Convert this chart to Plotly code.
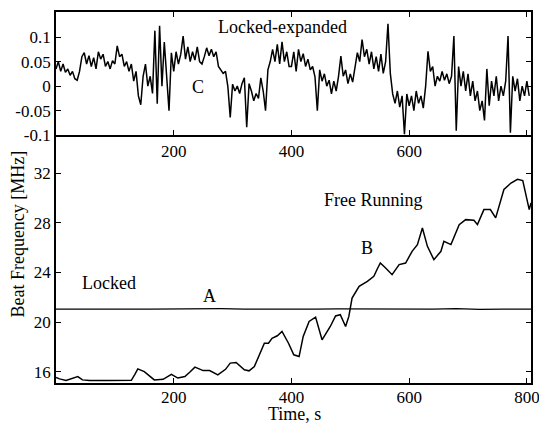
import plotly.graph_objects as go

# ---- Top panel: locked, expanded scale (MHz offset) ----
time_c = list(range(0, 808, 4))
offset_c = [
    0.035, 0.05, 0.03, 0.045, 0.028, 0.035, 0.022, 0.03, 0.015, 0.012,
    0.03, 0.06, 0.068, 0.045, 0.062, 0.04, 0.058, 0.035,
    0.07, 0.055, 0.065, 0.04, 0.05, 0.035, 0.052, 0.045,
    0.082, 0.06, 0.065, 0.04, 0.05, 0.03, 0.045,
    0.01, 0.03, -0.02, -0.038, 0.02, 0.045, 0.0, 0.02, -0.015, 0.113,
    -0.036, 0.123, 0.0, 0.09, 0.02, -0.05, 0.068, 0.03, 0.07, 0.045,
    0.065, 0.102, 0.055, 0.08, 0.05, 0.07, 0.053, 0.08, 0.05, 0.045,
    0.06, 0.078, 0.062, 0.075, 0.06, 0.07, 0.04, 0.033, 0.026, 0.03,
    -0.001, -0.064, 0.004, -0.01, 0.0, -0.015, 0.005, 0.017, -0.084, 0.005,
    -0.01, -0.03, -0.015, -0.025, 0.017, -0.01, -0.05, 0.033, 0.05, 0.075,
    0.05, 0.085, 0.045, 0.09, 0.05, 0.07, 0.04,
    0.04, 0.07, 0.03, 0.075, 0.05, 0.066, 0.04, 0.055, 0.033, 0.04,
    0.019, -0.05, 0.033, 0.01, 0.025, 0.0, 0.012, -0.016, 0.01, -0.01,
    0.02, 0.061, 0.02, 0.033, 0.005, 0.025, 0.008, 0.04, 0.068, 0.05,
    0.095, 0.06, 0.075, 0.045, 0.07, 0.035, 0.06, 0.03, 0.065, 0.026,
    0.05, 0.127, 0.026, -0.016, -0.035, -0.01, -0.043, -0.02, -0.098, -0.016,
    -0.04, -0.02, -0.05, -0.01, -0.035, -0.02, -0.045, 0.0, 0.071, 0.03,
    0.04, 0.0, 0.02, 0.01, 0.03, 0.012, 0.025, 0.005, 0.02, 0.102,
    -0.091, 0.04, 0.0, 0.03, -0.01, 0.025, -0.02, 0.01, -0.03, -0.01,
    -0.05, -0.03, -0.07, 0.035, -0.04, 0.01, -0.02, 0.02, -0.03, 0.0,
    -0.02, 0.01, 0.102, -0.095, 0.02, -0.01, 0.015, -0.03, 0.0, -0.02,
    0.01, -0.02,
]
time_c = time_c[:len(offset_c)]

# ---- Bottom panel: locked (A) ----
time_a = [0, 40, 80, 120, 160, 200, 240, 280, 320, 360, 400, 440, 480,
          520, 560, 600, 640, 680, 720, 760, 807]
freq_a = [21.05, 21.03, 21.06, 21.04, 21.05, 21.07, 21.06, 21.08, 21.05, 21.03,
          21.05, 21.04, 21.06, 21.05, 21.04, 21.03, 21.05, 21.08, 21.03, 21.05, 21.04]

# ---- Bottom panel: free running (B) ----
time_b = [0, 6, 17, 28, 37, 45, 57, 90, 128, 134, 139, 150, 158, 167, 182,
          196, 207, 219, 228, 236, 250, 261, 275, 288, 296, 306, 320, 328,
          337, 346, 354, 361, 367, 376, 384, 395, 404, 413, 420, 430, 441,
          452, 466, 475, 483, 492, 497.5, 503, 515, 529, 540, 546, 551, 560,
          571, 583, 594, 605, 614, 622.5, 631, 642, 654, 659, 671, 685, 696,
          710, 716, 727, 738, 747, 761, 773, 784, 793, 798, 804, 807]
freq_b = [15.54, 15.43, 15.3, 15.45, 15.62, 15.35, 15.3, 15.3, 15.32, 15.8,
          16.24, 16.02, 15.7, 15.35, 15.4, 15.8, 15.5, 15.62, 16.0, 16.38,
          16.1, 16.1, 15.75, 16.2, 16.7, 16.75, 16.16, 16.08, 16.43, 17.4,
          18.3, 18.3, 18.7, 18.9, 19.25, 18.3, 17.37, 17.23, 18.85, 20.06,
          20.4, 18.58, 19.65, 20.5, 20.6, 19.65, 20.46, 21.94, 22.88, 23.28,
          23.69, 24.3, 24.76, 24.36, 23.82, 24.63, 24.76, 25.7, 26.24, 27.58,
          26.1, 25.03, 25.7, 26.5, 26.24, 27.85, 28.25, 28.2, 27.85, 29.06,
          29.06, 28.39, 30.68, 31.2, 31.5, 31.4, 30.4, 29.06, 29.6]

xticks = [200, 400, 600, 800]
xtick_labels_top = ["200", "400", "600", ""]
yticks_top = [-0.1, -0.05, 0, 0.05, 0.1]
ytick_labels_top = ["-0.1", "-0.05", "0", "0.05", "0.1"]
yticks_bottom = [16, 20, 24, 28, 32]

FONT = "Liberation Serif"
TF = dict(family=FONT, size=17, color="black")
AF = dict(family=FONT, size=18, color="black")

fig = go.Figure()
fig.add_trace(go.Scatter(x=time_c, y=offset_c, mode="lines",
                         line=dict(color="black", width=1.5),
                         xaxis="x2", yaxis="y2", showlegend=False))
fig.add_trace(go.Scatter(x=time_a, y=freq_a, mode="lines",
                         line=dict(color="black", width=1.3), showlegend=False))
fig.add_trace(go.Scatter(x=time_b, y=freq_b, mode="lines",
                         line=dict(color="black", width=1.5), showlegend=False))

def ax(**kw):
    d = dict(showline=True, linecolor="black", linewidth=1.8, mirror="ticks",
             ticks="inside", ticklen=5, tickcolor="black", tickwidth=1.2,
             showgrid=False, zeroline=False, tickfont=TF, automargin=False)
    d.update(kw)
    return d

fig.update_layout(
    width=539, height=423,
    margin=dict(l=56, r=8, t=12, b=40),
    paper_bgcolor="white", plot_bgcolor="white",
    xaxis=ax(domain=[0, 1], range=[0, 807], tickvals=xticks, anchor="y",
             mirror=False, ticklabeloverflow="allow", ticklabelstandoff=-2),
    yaxis=ax(domain=[0, 0.668], range=[15.1, 35.05], tickvals=yticks_bottom, anchor="x"),
    xaxis2=ax(domain=[0, 1], range=[0, 807], tickvals=xticks,
              ticktext=xtick_labels_top, anchor="y2"),
    yaxis2=ax(domain=[0.668, 1], range=[-0.1, 0.151], tickvals=yticks_top,
              ticktext=ytick_labels_top, anchor="x2"),
    annotations=[
        dict(text="Locked-expanded", x=385, y=0.12, xref="x2", yref="y2",
             showarrow=False, font=AF),
        dict(text="C", x=241, y=-0.002, xref="x2", yref="y2",
             showarrow=False, font=AF),
        dict(text="Free Running", x=539, y=29.83, xref="x", yref="y",
             showarrow=False, font=AF),
        dict(text="B", x=528, y=25.97, xref="x", yref="y",
             showarrow=False, font=AF),
        dict(text="Locked", x=90, y=23.15, xref="x", yref="y",
             showarrow=False, font=AF),
        dict(text="A", x=261, y=22.1, xref="x", yref="y",
             showarrow=False, font=AF),
        dict(text="Time, s", x=0.503, y=0, yshift=-31, yanchor="middle",
             borderpad=0, xref="paper", yref="paper", showarrow=False, font=AF),
        dict(text="Beat Frequency [MHz]", x=0, xshift=-38, xanchor="center",
             y=0.40, xref="paper", yref="paper",
             textangle=-90, showarrow=False, font=AF),
    ],
)

fig.write_html("out.html", config={"displayModeBar": False},
               post_script="document.body.style.margin='0';document.body.style.padding='0';")
